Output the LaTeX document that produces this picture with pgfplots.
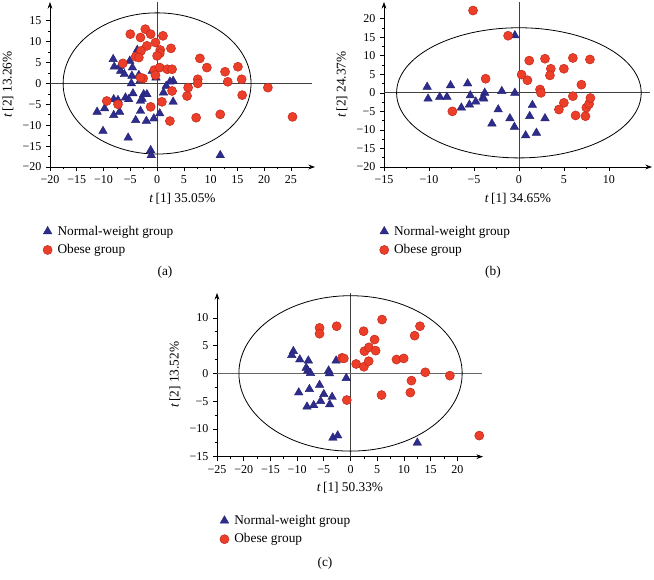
\documentclass[border=0pt]{standalone}
\usepackage{pgfplots}
\pgfplotsset{compat=1.18}
\usetikzlibrary{arrows.meta}
\usepackage{fontspec}
\setmainfont{Liberation Serif}
\definecolor{navy}{RGB}{46,44,140}
\definecolor{obred}{RGB}{236,62,40}
\definecolor{obedge}{RGB}{196,42,28}
\tikzset{refline/.style={black!75, line width=0.6pt}}
\pgfplotsset{
  pca/.style={
    scale only axis, axis lines=left,
    axis line style={-{Stealth[length=5pt,width=3.6pt]}, line width=0.6pt},
    tick align=outside, major tick length=3pt, minor tick length=1.8pt,
    minor tick num=1, tick style={black, line width=0.5pt},
    ticklabel style={font=\fontsize{9}{10}\selectfont},
    label style={font=\fontsize{10}{12}\selectfont},
    legend style={draw=none, fill=none, font=\fontsize{10}{12}\selectfont,
      legend cell align=left, anchor=north west, row sep=1.5pt,
      inner sep=0pt, outer sep=0pt,
      /tikz/every odd column/.append style={column sep=2pt}},
    legend image code/.code={\draw[##1] plot coordinates {(0.15cm,0cm)};},
    clip=false,
  },
  nw/.style={only marks, mark=triangle*, mark size=3.7pt,
    mark options={fill=navy, draw=navy!80!black, line width=0.3pt}},
  ob/.style={only marks, mark=*, mark size=3.4pt,
    mark options={fill=obred, draw=obedge, line width=0.4pt}},
}
\begin{document}
\begin{tikzpicture}
\useasboundingbox (0,0) rectangle (490.5pt,-435pt);
% ---------------- (a)
\begin{axis}[pca, at={(37.5pt,-125.25pt)}, anchor=south west,
  width=198.75pt, height=123.75pt,
  xmin=-20, xmax=29.5, ymin=-20, ymax=19.5,
  xtick={-20,-15,...,25}, xticklabels={−20,−15,−10,−5,0,5,10,15,20,25},
  ytick={-20,-15,...,15}, yticklabels={−20,−15,−10,−5,0,5,10,15},
  xlabel={\textit{t}\,[1] 35.05\%}, ylabel={\textit{t}\,[2] 13.26\%},
  legend style={at={(axis description cs:-0.026,-0.34)}}]
\draw[refline] (axis cs:0,-20) -- (axis cs:0,19.5);
\draw[refline] (axis cs:-20,0) -- (axis cs:29,0);
\draw[black, line width=0.6pt] (axis cs:0,0) ellipse [x radius=17.55, y radius=16.9];
\addplot[nw] coordinates {
(-8.2,5.8) (-8.0,4.0) (-5.1,5.4) (-3.7,8.0) (-6.8,3.0) (-6.1,2.2) (-4.7,1.8)
(-4.8,0.0) (-3.4,2.0) (-3.1,0.8) (-0.9,3.0) (-0.2,1.4) (3.0,0.6) (2.4,0.4)
(1.7,-0.6) (1.2,-2.2) (-5.9,-3.4) (-4.5,-2.4) (-5.3,-3.8) (-2.5,-2.6)
(-1.9,-2.6) (-2.8,-3.7) (-3.1,-4.2) (-8.1,-3.8) (-7.3,-4.0) (-11.2,-6.8)
(-9.8,-6.0) (-8.1,-7.6) (-7.0,-6.8) (-3.1,-6.6) (-4.0,-8.8) (-2.0,-9.0)
(-0.6,-8.4) (0.5,-7.2) (3.0,-4.4) (-10.1,-11.4) (-5.4,-13.0) (-1.2,-16.0)
(-1.1,-17.2) (11.8,-17.2) (-6.9,4.2) (-4.6,3.8)
};
\addlegendentry{Normal-weight group}
\addplot[ob] coordinates {
(-5.0,11.8) (-2.2,13.0) (-3.1,11.0) (-1.2,11.8) (1.1,11.4) (-1.9,9.0)
(-0.3,9.8) (-3.0,7.8) (-4.0,6.4) (-3.4,6.2) (0.6,8.0) (0.5,7.2) (0.0,6.6)
(2.6,8.4) (-6.4,4.8) (8.0,6.0) (9.3,3.8) (12.7,2.8) (15.1,4.0) (13.2,0.4)
(15.8,1.0) (15.9,-2.8) (-0.5,3.2) (0.5,3.8) (1.9,3.4) (2.8,3.4) (-0.3,2.0)
(-2.6,1.2) (-3.1,1.4) (7.6,1.0) (7.6,0.0) (5.8,-1.0) (5.6,-3.0) (2.8,-1.8)
(0.9,-4.4) (-1.2,-5.6) (-9.4,-4.2) (-7.3,-5.0) (2.4,-9.0) (7.3,-8.2)
(11.8,-7.4) (20.7,-1.0) (25.3,-8.0)
};
\addlegendentry{Obese group}
\end{axis}
% ---------------- (b)
\begin{axis}[pca, at={(288pt,-125.25pt)}, anchor=south west,
  width=201pt, height=123.75pt,
  xmin=-15, xmax=14.8, ymin=-20, ymax=24.5,
  xtick={-15,-10,...,10}, xticklabels={−15,−10,−5,0,5,10},
  ytick={-20,-15,...,20}, yticklabels={−20,−15,−10,−5,0,5,10,15,20},
  xlabel={\textit{t}\,[1] 34.65\%}, ylabel={\textit{t}\,[2] 24.37\%},
  legend style={at={(axis description cs:-0.016,-0.34)}}]
\draw[refline] (axis cs:0,-20) -- (axis cs:0,24.5);
\draw[refline] (axis cs:-15,0) -- (axis cs:14.6,0);
\draw[black, line width=0.6pt] (axis cs:0,0) ellipse [x radius=13.6, y radius=17.55];
\addplot[nw] coordinates {
(-10.2,1.6) (-10.1,-1.6) (-8.8,-1.1) (-8.0,-1.1) (-7.6,2.0) (-5.7,2.5)
(-5.4,-0.7) (-5.5,-3.2) (-6.4,-4.0) (-4.8,-2.4) (-4.0,-1.3) (-3.8,0.0)
(-3.9,-1.6) (-1.9,0.45) (-0.45,0.0) (-0.45,15.5) (-2.3,-4.5) (-3.0,-8.3)
(-1.0,-6.9) (-0.5,-9.2) (0.75,-11.5) (1.5,-3.3) (1.2,-6.3) (1.95,-10.8)
(2.9,-6.9)
};
\addlegendentry{Normal-weight group}
\addplot[ob] coordinates {
(-5.1,22.2) (-1.2,15.4) (-3.7,3.8) (-7.4,-5.0) (0.3,4.9) (0.95,3.4)
(1.15,8.7) (2.9,9.2) (3.55,6.5) (3.45,4.7) (2.35,0.9) (2.45,0.0) (5.0,6.5)
(6.0,9.4) (7.9,9.0) (6.95,2.2) (6.0,-0.9) (5.0,-2.7) (4.45,-4.5) (6.3,-6.1)
(7.4,-6.3) (7.5,-4.0) (7.8,-3.0) (7.95,-1.4)
};
\addlegendentry{Obese group}
\end{axis}
% ---------------- (c)
\begin{axis}[pca, at={(162.75pt,-342.5pt)}, anchor=south west,
  width=199.5pt, height=122.8pt,
  xmin=-25, xmax=24.8, ymin=-15, ymax=14.5,
  xtick={-25,-20,...,20}, xticklabels={−25,−20,−15,−10,−5,0,5,10,15,20},
  ytick={-15,-10,...,10}, yticklabels={−15,−10,−5,0,5,10},
  xlabel={\textit{t}\,[1] 50.33\%}, ylabel={\textit{t}\,[2] 13.52\%},
  legend style={at={(axis description cs:0.011,-0.34)}}]
\draw[refline] (axis cs:0,-15) -- (axis cs:0,14.5);
\draw[black!60, line width=0.7pt] (axis cs:-25,0) -- (axis cs:24.6,0);
\draw[black, line width=0.6pt] (axis cs:0,0) ellipse [x radius=20.9, y radius=14.0];
\addplot[nw] coordinates {
(-10.7,4.0) (-11.0,3.3) (-9.5,2.5) (-7.9,2.3) (-8.3,1.0) (-8.0,0.5)
(-7.5,0.05) (-4.1,0.5) (-3.95,0.0) (-2.7,2.3) (-0.8,-0.85) (-5.8,-2.1)
(-7.7,-2.85) (-9.7,-3.45) (-5.0,-3.75) (-3.45,-4.25) (-5.6,-5.0)
(-3.9,-5.6) (-6.9,-5.75) (-8.15,-6.0) (-3.3,-11.6) (-2.4,-11.2) (12.5,-12.5)
};
\addlegendentry{Normal-weight group}
\addplot[ob] coordinates {
(-5.8,8.2) (-5.8,7.15) (-2.6,8.5) (-1.6,2.8) (-1.25,2.7) (-0.7,-4.8)
(1.05,1.7) (2.5,1.2) (2.45,7.6) (2.6,4.0) (3.45,4.7) (3.4,2.2) (4.5,6.1)
(4.7,4.1) (5.9,9.7) (5.8,-3.9) (8.6,2.5) (9.95,2.7) (12.0,6.8) (13.0,8.5)
(11.4,-1.3) (11.2,-3.45) (14.0,0.2) (18.6,-0.4) (24.1,-11.2)
};
\addlegendentry{Obese group}
\end{axis}
\node[font=\fontsize{10}{12}\selectfont] at (123.75pt,-204pt) {(a)};
\node[font=\fontsize{10}{12}\selectfont] at (369.75pt,-204pt) {(b)};
\node[font=\fontsize{10}{12}\selectfont] at (243.75pt,-422.25pt) {(c)};
\end{tikzpicture}
\end{document}
